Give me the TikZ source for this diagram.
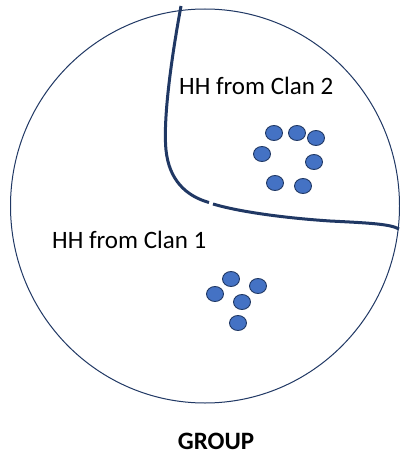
\documentclass[tikz,border=0pt]{standalone}
\usetikzlibrary{shapes.geometric}
\usepackage{fontspec}
\setmainfont{Carlito}
\definecolor{navy}{HTML}{203864}
\definecolor{dotblue}{HTML}{4472C4}
\begin{document}
\begin{tikzpicture}[x=1pt,y=-1pt,
  dot/.style={ellipse,draw=navy,line width=0.9pt,fill=dotblue,minimum width=17pt,minimum height=15pt,inner sep=0pt},
  lbl/.style={font=\fontsize{25}{28}\selectfont,inner sep=0pt,anchor=west},
  divider/.style={draw=navy,line width=3pt}]
\useasboundingbox (0,0) rectangle (399,457);
\fill[white] (0,0) rectangle (399,457);
\draw[navy,line width=1pt] (205,206) ellipse [x radius=194.5, y radius=197];
% divider
\coordinate (d0) at (181,6);
\coordinate (d1) at (209,202.5);
\coordinate (d2) at (213,204);
\coordinate (d3) at (399,229);
\draw[divider] (d0) .. controls (171,60) and (163,120) .. (166,150) .. controls (169,180) and (186,196) .. (d1);
\draw[divider] (d2) .. controls (240,212) and (285,218) .. (330,221) .. controls (370,223) and (390,224) .. (d3);
% labels
\node[lbl] (c2) at (179,86) {HH from Clan 2};
\node[lbl] (c1) at (52,240) {HH from Clan 1};
\node[font=\fontsize{25}{28}\selectfont\bfseries,inner sep=0pt] (g) at (216,441) {GROUP};
% clan 2 dots
\node[dot] (a1) at (274,133) {};
\node[dot] (a2) at (297,133) {};
\node[dot] (a3) at (316,138) {};
\node[dot] (a4) at (262,154) {};
\node[dot] (a5) at (314,162) {};
\node[dot] (a6) at (275,183) {};
\node[dot] (a7) at (303,186) {};
% clan 1 dots
\node[dot] (b1) at (231,279) {};
\node[dot] (b2) at (258,286) {};
\node[dot] (b3) at (215,294) {};
\node[dot] (b4) at (242,302) {};
\node[dot] (b5) at (238,323) {};
\end{tikzpicture}
\end{document}
